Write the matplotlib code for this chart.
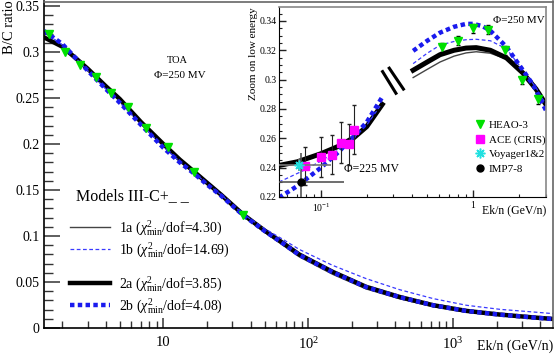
import matplotlib
matplotlib.use("Agg")
import matplotlib.pyplot as plt
from matplotlib.ticker import MultipleLocator, FixedLocator, LogLocator, NullFormatter, FuncFormatter

plt.rcParams["font.family"] = ["Liberation Serif", "DejaVu Serif"]
plt.rcParams["mathtext.fontset"] = "custom"
plt.rcParams["mathtext.rm"] = "Liberation Serif"
plt.rcParams["mathtext.it"] = "Liberation Serif:italic"

# ---- main panel: B/C ratio vs Ek/n (GeV/n)
e_main = [1.5, 2, 2.5, 3, 4, 5, 7, 10, 13, 16.3, 20, 25, 35.5, 50, 67.6, 86.6, 147, 251, 427, 728,
          1238, 2107, 3586, 4930]
bc_1a = [0.315, 0.305, 0.292, 0.281, 0.262, 0.248, 0.224, 0.198, 0.182, 0.169, 0.157, 0.144, 0.1225, 0.104,
         0.0895, 0.0775, 0.0585, 0.0425, 0.0318, 0.0232, 0.0173, 0.0135, 0.0106, 0.0089]
bc_1b = [0.322, 0.308, 0.293, 0.280, 0.260, 0.245, 0.222, 0.197, 0.181, 0.169, 0.157, 0.145, 0.124, 0.108,
         0.096, 0.0855, 0.0682, 0.0537, 0.0417, 0.0320, 0.0247, 0.0203, 0.0174, 0.0156]
bc_2a = [0.316, 0.306, 0.293, 0.282, 0.263, 0.249, 0.224, 0.200, 0.183, 0.170, 0.158, 0.145, 0.1235, 0.106,
         0.092, 0.080, 0.0612, 0.0448, 0.0338, 0.0248, 0.0186, 0.0146, 0.0115, 0.0098]
bc_2b = [0.323, 0.309, 0.293, 0.280, 0.260, 0.245, 0.221, 0.196, 0.180, 0.168, 0.156, 0.144, 0.1228, 0.1055,
         0.0915, 0.0795, 0.0608, 0.0445, 0.0336, 0.0247, 0.0185, 0.0145, 0.0114, 0.0097]

heao_e = [0.626, 0.80, 1.0, 1.26, 1.62, 2.1, 2.67, 3.45, 4.38, 5.74, 7.64, 10.8, 16.3, 35.5]
heao_bc = [0.322, 0.3265, 0.335, 0.334, 0.320, 0.2997, 0.2865, 0.273, 0.255, 0.240, 0.218, 0.197, 0.170, 0.1225]
heao_err = [0.003, 0.003, 0.003, 0.003, 0.003, 0.003, 0.003, 0.003, 0.003, 0.003, 0.003, 0.003, 0.003, 0.003]

# ---- inset: low energy zoom (two modulation levels)
e_low = [0.053, 0.07, 0.1, 0.13, 0.165, 0.2, 0.253]
low_1a = [0.2410, 0.2435, 0.2490, 0.2540, 0.2600, 0.2675, 0.2826]
low_2a = [0.2415, 0.2440, 0.2495, 0.2545, 0.2605, 0.2680, 0.2831]
low_2b = [0.2196, 0.2275, 0.2400, 0.2505, 0.2615, 0.2710, 0.2881]
e_low_1b = [0.053, 0.077, 0.1, 0.13, 0.165, 0.2, 0.245]
low_1b = [0.2302, 0.2381, 0.2445, 0.2520, 0.2605, 0.2690, 0.2820]

e_high = [0.404, 0.5, 0.607, 0.75, 0.9, 1.05, 1.3, 1.66, 2.13, 2.6, 3.02]
high_1a = [0.3014, 0.3070, 0.3120, 0.3160, 0.3182, 0.3190, 0.3180, 0.3140, 0.3042, 0.2933, 0.2828]
high_1b = [0.3109, 0.3180, 0.3235, 0.3260, 0.3272, 0.3275, 0.3265, 0.3210, 0.3065, 0.2945, 0.2830]
high_2a = [0.3064, 0.3120, 0.3170, 0.3200, 0.3215, 0.3218, 0.3200, 0.3148, 0.3045, 0.2935, 0.2830]
e_high_2b = [0.404, 0.5, 0.607, 0.75, 0.9, 1.0, 1.15, 1.29, 1.66, 2.13, 2.5, 3.02]
high_2b = [0.3196, 0.3265, 0.3320, 0.3360, 0.3380, 0.3380, 0.3365, 0.3337, 0.3223, 0.3064, 0.2960, 0.2790]

ace_e = [0.078, 0.1005, 0.118, 0.136, 0.153, 0.164]
ace_bc = [0.2409, 0.2473, 0.2489, 0.2571, 0.2560, 0.2659]
ace_err = [0.013, 0.0137, 0.0135, 0.014, 0.014, 0.0165]

voy_e = [0.0722]
voy_bc = [0.242]
voy_xerr = [[0.0222], [0.044]]
voy_err = [0.004]

imp_e = [0.074]
imp_bc = [0.230]
imp_xerr = [[0.024], [0.068]]
imp_err = [0.02]

data_labels = ["HEAO-3", "ACE (CRIS)", "Voyager1&2", "IMP7-8"]

BLUE = "#1a1aee"
DOT = (0, (1, 0.75))

fig = plt.figure(figsize=(5.56, 3.58), dpi=100)
ax = fig.add_axes([44 / 556, 1 - 328 / 358, 509 / 556, 326.5 / 358])

l1a, = ax.plot(e_main, bc_1a, color="#444444", lw=1.0, label=r"1a ($\chi^2_{\rm min}$/dof=4.30)")
l2a, = ax.plot(e_main, bc_2a, color="black", lw=3.2, label=r"2a ($\chi^2_{\rm min}$/dof=3.85)")
l1b, = ax.plot(e_main, bc_1b, color="#3a3aff", lw=0.9, ls=(0, (3, 2)), label=r"1b ($\chi^2_{\rm min}$/dof=14.69)")
l2b, = ax.plot(e_main, bc_2b, color=BLUE, lw=3.2, ls=DOT, label=r"2b ($\chi^2_{\rm min}$/dof=4.08)")
ax.errorbar(heao_e, heao_bc, yerr=heao_err, fmt="v", color="#00e000", ms=6, ecolor="black",
            elinewidth=0.8, capsize=0, zorder=5)

ax.set_xscale("log")
ax.set_xlim(1.5, 4900)
ax.set_ylim(0, 0.355)
ax.xaxis.set_major_locator(FixedLocator([10, 100, 1000]))
ax.set_xticklabels(["10", r"$10^2$", r"$10^3$"])
ax.xaxis.set_minor_locator(LogLocator(base=10, subs=range(2, 10), numticks=20))
ax.xaxis.set_minor_formatter(NullFormatter())
ax.yaxis.set_major_locator(MultipleLocator(0.05))
ax.yaxis.set_minor_locator(MultipleLocator(0.01))
ax.yaxis.set_major_formatter(FuncFormatter(lambda v, p: "%g" % round(v, 3)))
ax.tick_params(axis="y", which="major", direction="in", length=11.5, width=1.1, labelsize=10,
               color="#333333", pad=3, right=False)
ax.tick_params(axis="y", which="minor", direction="in", length=6.5, width=1.0, color="#333333", right=False)
ax.tick_params(axis="x", which="major", direction="in", length=7.5, width=1.1, labelsize=10.5,
               color="#333333", pad=6, top=False)
ax.tick_params(axis="x", which="minor", direction="in", length=5, width=1.0, color="#333333", top=False)
for side in ["top", "right"]:
    ax.spines[side].set_color("#666666")
    ax.spines[side].set_linewidth(1.2)
for side in ["left", "bottom"]:
    ax.spines[side].set_linewidth(1.2)

ax.text(-0.067, 1.004, "B/C ratio", transform=ax.transAxes, rotation=90, ha="center", va="top", fontsize=10.5)
ax.text(1.0, -0.055, "Ek/n (GeV/n)", transform=ax.transAxes, ha="right", va="center", fontsize=10)
ax.text(0.262, 0.82, "TOA", transform=ax.transAxes, ha="center", va="center", fontsize=7.5)
ax.text(0.267, 0.772, "Φ=250 MV", transform=ax.transAxes, ha="center", va="center", fontsize=8)
ax.text(0.063, 0.404, "Models III-C+_ _", transform=ax.transAxes, ha="left", va="center", fontsize=11.5)

leg1 = ax.legend(handles=[l1a, l1b], loc="center left", bbox_to_anchor=(0.051, 0.2726), frameon=False,
                 fontsize=10, handlelength=2.9, handletextpad=0.65, labelspacing=0.2, borderpad=0,
                 borderaxespad=0)
ax.add_artist(leg1)
ax.legend(handles=[l2a, l2b], loc="center left", bbox_to_anchor=(0.051, 0.101), frameon=False,
          fontsize=10, handlelength=2.9, handletextpad=0.65, labelspacing=0.2, borderpad=0,
          borderaxespad=0)

# ---- inset
ins = fig.add_axes([279 / 556, 1 - 197 / 358, 267 / 556, 190 / 358])
ins.plot(e_low, low_1a, color="#444444", lw=1.0)
ins.plot(e_high, high_1a, color="#444444", lw=1.0)
ins.plot(e_low, low_2a, color="black", lw=3.6)
ins.plot(e_high, high_2a, color="black", lw=3.6)
ins.plot(e_low_1b, low_1b, color="#3a3aff", lw=0.9, ls=(0, (3, 2)))
ins.plot(e_high, high_1b, color="#3a3aff", lw=0.9, ls=(0, (3, 2)))
ins.plot(e_low, low_2b, color=BLUE, lw=3.2, ls=DOT)
ins.plot(e_high_2b, high_2b, color=BLUE, lw=3.2, ls=DOT)

h_heao = ins.errorbar(heao_e, heao_bc, yerr=heao_err, fmt="v", color="#00e000", ms=5.5, ecolor="black",
                      elinewidth=0.8, capsize=1.5, zorder=5)
h_ace = ins.errorbar(ace_e, ace_bc, yerr=ace_err, fmt="s", color="#ff00ff", ms=5.5, ecolor="#222222",
                     elinewidth=0.8, capsize=1.5, zorder=5)
ins.errorbar(voy_e, voy_bc, xerr=voy_xerr, yerr=voy_err, fmt="none", ecolor="#777777",
             elinewidth=1.2, capsize=0, zorder=6)
m_voy, = ins.plot(voy_e, voy_bc, ls="none", marker=(8, 2, 0), color="#20e0e0", ms=7, mew=1.1, zorder=7)
h_imp = ins.errorbar(imp_e, imp_bc, xerr=imp_xerr, yerr=imp_err, fmt="o", color="black", ms=5,
                     ecolor="#555555", elinewidth=1.2, capsize=0, zorder=6)

ins.set_xscale("log")
ins.set_xlim(0.053, 3.02)
ins.set_ylim(0.22, 0.3495)
ins.xaxis.set_major_locator(FixedLocator([0.1, 1]))
ins.set_xticklabels([r"$10^{-1}$", "1"])
ins.xaxis.set_minor_locator(LogLocator(base=10, subs=range(2, 10), numticks=20))
ins.xaxis.set_minor_formatter(NullFormatter())
ins.yaxis.set_major_locator(MultipleLocator(0.02))
ins.yaxis.set_minor_locator(MultipleLocator(0.005))
ins.yaxis.set_major_formatter(FuncFormatter(lambda v, p: "%g" % round(v, 3)))
ins.tick_params(which="major", direction="in", length=5, width=1.0, labelsize=7, pad=1.5, color="#222222")
ins.tick_params(which="minor", direction="in", length=2.5, width=0.8, color="#222222")
ins.tick_params(axis="x", which="major", pad=3)
for side in ["top", "right"]:
    ins.spines[side].set_color("#888888")
    ins.spines[side].set_linewidth(1.2)

ins.plot([0.388, 0.438], [0.660, 0.546], transform=ins.transAxes, color="black", lw=2.2)
ins.plot([0.413, 0.466], [0.678, 0.568], transform=ins.transAxes, color="black", lw=2.2)

ins.text(-0.094, 1.0, "Zoom on low energy", transform=ins.transAxes, rotation=90, ha="center", va="top",
         fontsize=8)
ins.text(1.0, -0.07, "Ek/n (GeV/n)", transform=ins.transAxes, ha="right", va="center", fontsize=8.5)
ins.text(0.90, 0.93, "Φ=250 MV", transform=ins.transAxes, ha="center", va="center", fontsize=8)
ins.text(0.348, 0.146, "Φ=225 MV", transform=ins.transAxes, ha="center", va="center", fontsize=8.5)

ins.legend([h_heao[0], h_ace[0], m_voy, h_imp[0]], data_labels, loc="center left",
           bbox_to_anchor=(0.742, 0.263), frameon=False, fontsize=7.9, handlelength=0.6,
           handletextpad=0.45, labelspacing=0.45, borderpad=0, borderaxespad=0)

fig.savefig("out.png", dpi=100)
